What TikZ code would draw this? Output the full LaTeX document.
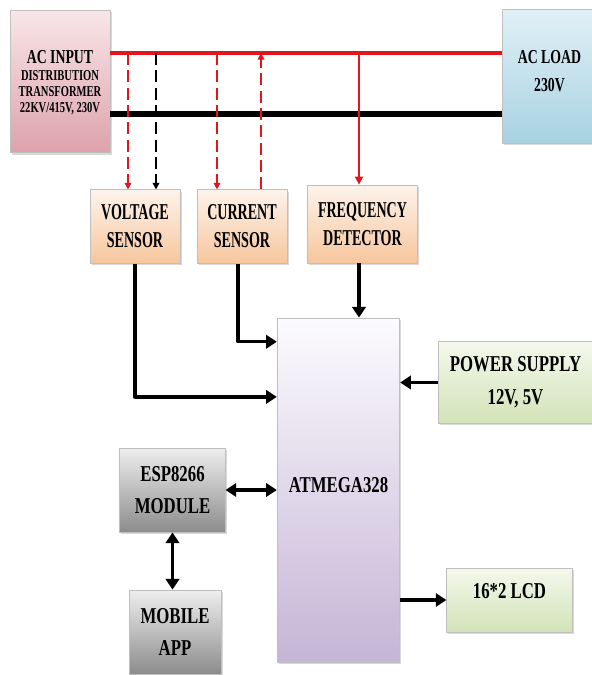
\documentclass[tikz,border=0pt]{standalone}
\usepackage{fontspec}
\setmainfont{Liberation Serif}[FakeStretch=0.70]
\newfontfamily\narrowf{Liberation Serif}[FakeStretch=0.62]
\newfontfamily\widef{Liberation Serif}[FakeStretch=0.74]
\usepackage{tikz}
\usetikzlibrary{arrows.meta,calc,shadows}
\usetikzlibrary{positioning}
\definecolor{pinkT}{HTML}{F8E6E8}\definecolor{pinkB}{HTML}{DDA2AB}
\definecolor{blueT}{HTML}{E0F0F6}\definecolor{blueB}{HTML}{A8D2E2}
\definecolor{peachT}{HTML}{FDF3EB}\definecolor{peachB}{HTML}{F7C69D}
\definecolor{lilacT}{HTML}{FCFBFE}\definecolor{lilacB}{HTML}{C5B5D6}
\definecolor{greenT}{HTML}{F4F8EC}\definecolor{greenB}{HTML}{D2E3B8}
\definecolor{greyT}{HTML}{EEEEEE}\definecolor{greyB}{HTML}{8C8C8C}
\definecolor{phaseRed}{HTML}{E3141C}
\begin{document}
\begin{tikzpicture}[x=0.75pt,y=-0.75pt,>=Triangle,line join=round,
  blk/.style={draw=black!25,line width=0.6pt,align=center,font=\bfseries,drop shadow={shadow xshift=1.2pt,shadow yshift=-1.5pt,opacity=0.3}},
  sens/.style={blk,top color=peachT,bottom color=peachB,font=\narrowf\bfseries\fontsize{17}{21}\selectfont},
  big/.style={font=\widef\bfseries\fontsize{17}{24.5}\selectfont},
  phase/.style={line width=3pt,phaseRed},
  neutral/.style={line width=3.8pt,black},
  tap/.style={line width=1.4pt,dash pattern=on 9pt off 4pt,-{Triangle[length=5pt,width=5pt]}},
  bus/.style={line width=2.6pt,-{Triangle[length=8pt,width=10pt]}},
  dbus/.style={line width=2.6pt,{Triangle[length=8pt,width=10pt]}-{Triangle[length=8pt,width=10pt]}}]
\useasboundingbox (0,0) rectangle (592,675);
% supply side and load
\node[blk,top color=pinkT,bottom color=pinkB,minimum width=75pt,minimum height=107pt,text depth=0pt] (acin) at (60,81.5) {{\fontsize{14.8}{14.8}\selectfont AC INPUT}\\[1pt]{\fontsize{11.3}{13}\selectfont DISTRIBUTION}\\{\fontsize{11.3}{13}\selectfont TRANSFORMER}\\{\fontsize{11.3}{13}\selectfont 22KV/415V, 230V}};
\node[blk,top color=blueT,bottom color=blueB,minimum width=70pt,minimum height=100pt,text depth=9pt,font=\bfseries\fontsize{14.8}{21}\selectfont] (acload) at (549.5,76.5) {AC LOAD\\230V};
% sensing blocks
\node[sens,minimum width=67.5pt,minimum height=55pt] (volt) at (135,226.5) {VOLTAGE\\SENSOR};
\node[sens,minimum width=67.5pt,minimum height=55pt] (curr) at (242,226.5) {CURRENT\\SENSOR};
\node[sens,minimum width=83pt,minimum height=58.5pt] (freq) at (362.5,224) {FREQUENCY\\DETECTOR};
% controller and peripherals
\node[blk,big,top color=lilacT,bottom color=lilacB,minimum width=92pt,minimum height=258pt,text depth=7pt] (atm) at (338.5,490) {ATMEGA328};
\node[blk,big,top color=greenT,bottom color=greenB,minimum width=116pt,minimum height=61pt] (pwr) at (515.5,382.5) {POWER SUPPLY\\12V, 5V};
\node[blk,big,top color=greenT,bottom color=greenB,minimum width=94pt,minimum height=48pt,text depth=14pt] (lcd) at (509.5,600) {16*2 LCD};
\node[blk,big,top color=greyT,bottom color=greyB,minimum width=79pt,minimum height=63pt] (esp) at (172.5,490) {ESP8266\\MODULE};
\node[blk,big,top color=greyT,bottom color=greyB,minimum width=69pt,minimum height=63pt] (mob) at (175,632) {MOBILE\\APP};
% AC lines
\coordinate (lred) at (0,53);
\coordinate (lblk) at (0,114);
\draw[phase] (acin.east |- lred) -- (acload.west |- lred);
\draw[neutral] (acin.east |- lblk) -- (acload.west |- lblk);
% taps to the sensors
\coordinate (tv1) at (128,53); \coordinate (tv2) at (156,53);
\coordinate (tc1) at (217,53); \coordinate (tc2) at (261,53);
\coordinate (tf) at (359,53);
\draw[tap,phaseRed] (tv1) -- (tv1 |- volt.north);
\draw[tap,black] (tv2) -- (tv2 |- volt.north);
\draw[tap,phaseRed] (tc1) -- (tc1 |- curr.north);
\draw[tap,phaseRed] (tc2 |- curr.north) -- (tc2);
\draw[line width=1.4pt,phaseRed,-{Triangle[length=6pt,width=6pt]}] (tf) -- (tf |- freq.north);
% signals to the controller
\draw[bus] (freq.south -| tf) -- (tf |- atm.north);
\draw[bus] ([xshift=-3pt]curr.south) |- ($(atm.north west)!0.07!(atm.south west)$);
\draw[bus] (volt.south) |- ($(atm.north west)!0.23!(atm.south west)$);
\draw[bus] (pwr.west) -- (pwr.west -| atm.east);
\draw[dbus] (esp.east) -- (esp.east -| atm.west);
\draw[dbus] (esp.south) -- (esp.south |- mob.north);
\draw[bus] (lcd.west -| atm.east) -- (lcd.west);
\end{tikzpicture}
\end{document}
